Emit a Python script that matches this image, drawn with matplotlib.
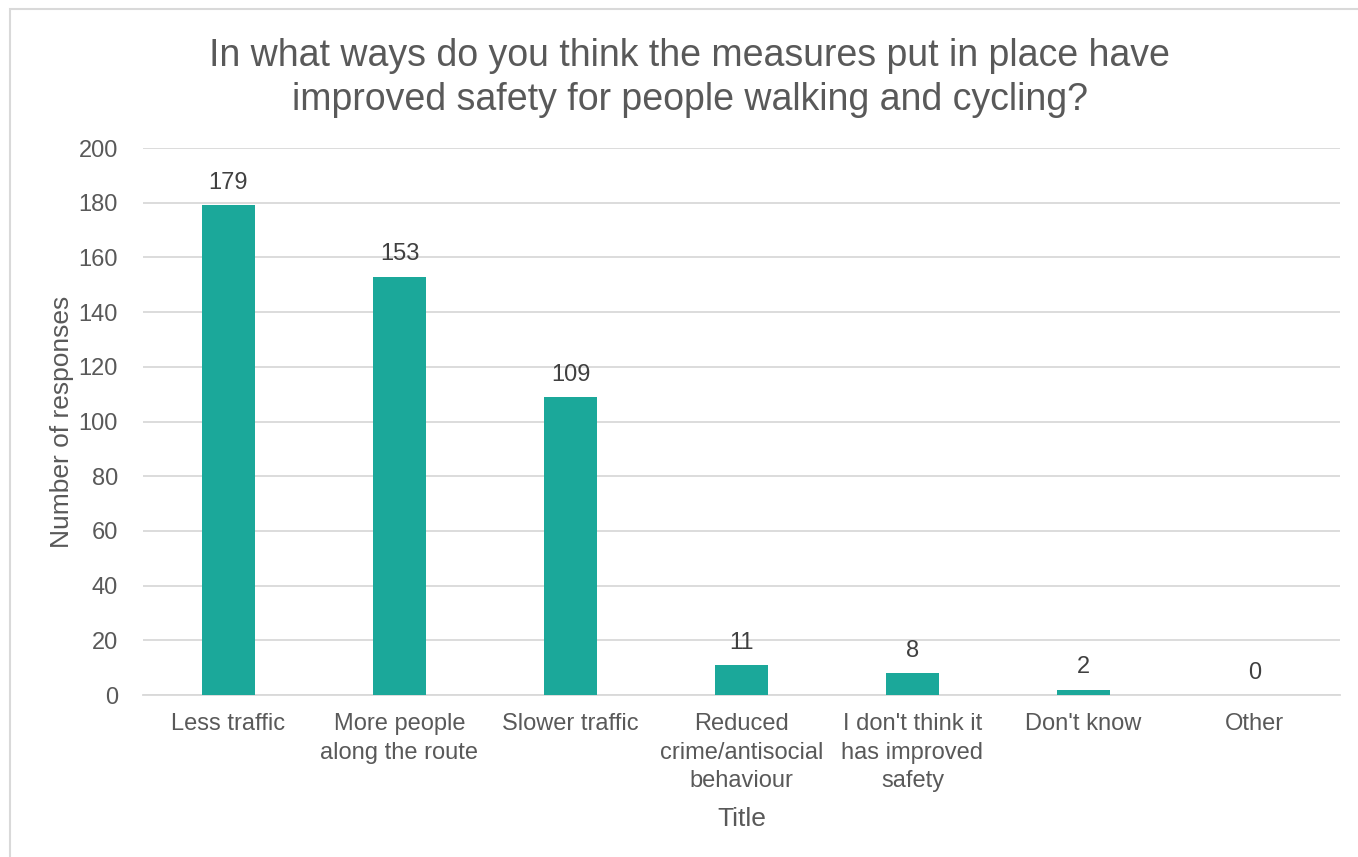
import matplotlib
matplotlib.use("Agg")
import matplotlib.pyplot as plt
from matplotlib.patches import Rectangle

# data
categories = ["Less traffic", "More people\nalong the route", "Slower traffic",
              "Reduced\ncrime/antisocial\nbehaviour", "I don't think it\nhas improved\nsafety",
              "Don't know", "Other"]
responses = [179, 153, 109, 11, 8, 2, 0]
yticks = [0, 20, 40, 60, 80, 100, 120, 140, 160, 180, 200]

bar_color = "#1BA89A"
text_color = "#595959"
grid_color = "#D9D9D9"

plt.rcParams['font.family'] = ['Liberation Sans', 'DejaVu Sans']

fig = plt.figure(figsize=(13.58, 8.57), dpi=100)
ax = fig.add_axes([0.1053, 0.189, 0.8814, 0.6383])

# outer chart border (only top/left visible in reference)
fig.patches.append(Rectangle((10 / 1358, -0.1), 1.2, 1 - 9 / 857 + 0.1, transform=fig.transFigure,
                             fill=False, edgecolor=grid_color, linewidth=1.5))

x = list(range(len(categories)))
bars = ax.bar(x, responses, width=0.315, color=bar_color, zorder=3)
for xi, v in zip(x, responses):
    ax.annotate(str(v), (xi, v), xytext=(0, 8), textcoords="offset points",
                ha="center", va="bottom", fontsize=17, color="#404040")

ax.set_xlim(-0.5, len(categories) - 0.5)
ax.set_ylim(0, 200)
ax.set_yticks(yticks)
ax.set_xticks(x)
ax.set_xticklabels(categories, fontsize=17, color=text_color, linespacing=1.38)
ax.tick_params(axis="y", labelsize=17, colors=text_color, length=0, pad=18)
ax.tick_params(axis="x", length=0, pad=13)
ax.grid(axis="y", color=grid_color, linewidth=1.3, zorder=0)
for s in ["top", "right", "left"]:
    ax.spines[s].set_visible(False)
ax.spines["bottom"].set_color(grid_color)
ax.spines["bottom"].set_linewidth(1.3)

ax.set_ylabel("Number of responses", fontsize=19, color=text_color, labelpad=3)
ax.set_xlabel("Title", fontsize=19, color=text_color, labelpad=11)

fig.text(0.508, 0.909, "In what ways do you think the measures put in place have\nimproved safety for people walking and cycling?",
         ha="center", va="center", fontsize=27, color=text_color, linespacing=1.27)

fig.savefig("out.png", dpi=100)
